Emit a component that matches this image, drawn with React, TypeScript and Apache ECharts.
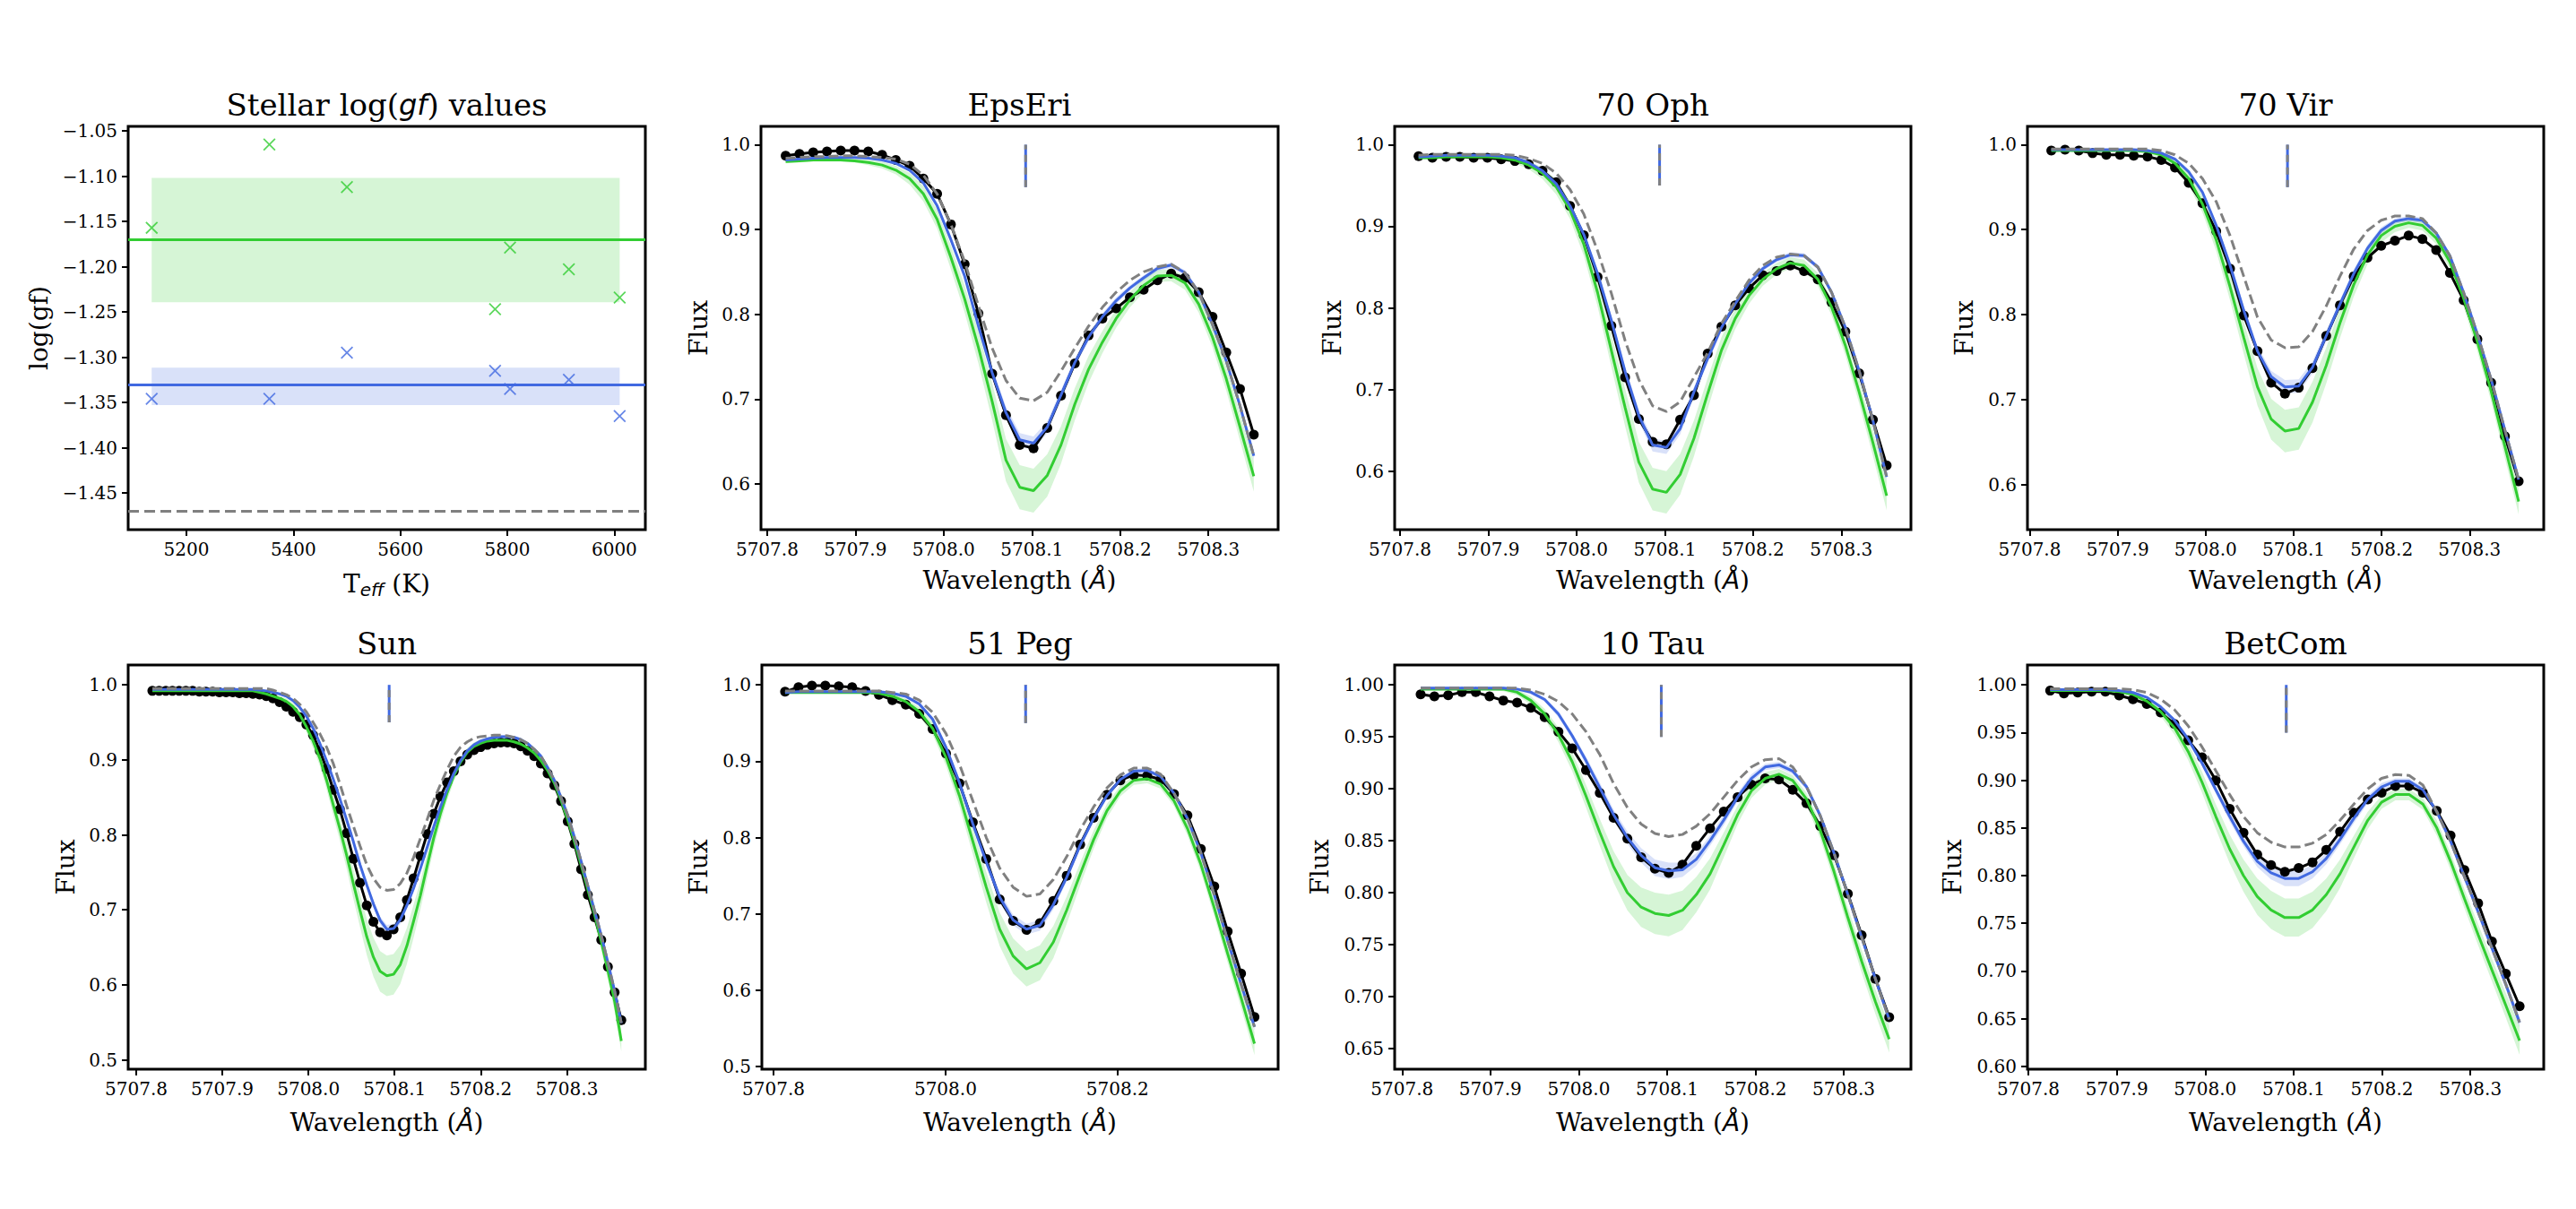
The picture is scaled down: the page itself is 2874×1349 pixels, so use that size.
import React, { useEffect, useRef } from "react";
import * as echarts from "echarts";

// ---------------- Panel 1: stellar log(gf) values ----------------
const teff = [5135, 5355, 5500, 5777, 5805, 5915, 6010];
const logGfGreen = [-1.157, -1.065, -1.112, -1.247, -1.179, -1.203, -1.234];
const logGfBlue = [-1.346, -1.346, -1.295, -1.315, -1.335, -1.325, -1.365];
const greenMean = -1.171;
const greenBand = [-1.2394, -1.102];
const blueMean = -1.3326;
const blueBand = [-1.353, -1.3115];
const originalLogGf = -1.468;
const teffTicks = [5200, 5400, 5600, 5800, 6000];
const logGfTicks = [-1.45, -1.4, -1.35, -1.3, -1.25, -1.2, -1.15, -1.1, -1.05];

// ---------------- Wavelength grids (Å) ----------------
const wlGridA = [
  5707.821, 5707.8366, 5707.8522, 5707.8678, 5707.8834, 5707.899, 5707.9146, 5707.9302, 5707.9458, 5707.9614,
  5707.977, 5707.9926, 5708.0082, 5708.0238, 5708.0394, 5708.055, 5708.0706, 5708.0862, 5708.1018, 5708.1174,
  5708.133, 5708.1486, 5708.1642, 5708.1798, 5708.1954, 5708.211, 5708.2266, 5708.2422, 5708.2578, 5708.2734,
  5708.289, 5708.3046, 5708.3202, 5708.3358, 5708.3514,
];
const wlGridB = [
  5707.8246, 5707.8402, 5707.8558, 5707.8715, 5707.8871, 5707.9027, 5707.9183, 5707.9339, 5707.9496, 5707.9652,
  5707.9808, 5707.9964, 5708.012, 5708.0277, 5708.0433, 5708.0589, 5708.0745, 5708.0901, 5708.1058, 5708.1214,
  5708.137, 5708.1526, 5708.1682, 5708.1839, 5708.1995, 5708.2151, 5708.2307, 5708.2463, 5708.262, 5708.2776,
  5708.2932, 5708.3088, 5708.3244, 5708.3401, 5708.3557,
];
const wl51Peg = [
  5707.8134, 5707.829, 5707.8446, 5707.8602, 5707.8758, 5707.8914, 5707.907, 5707.9226, 5707.9382, 5707.9538,
  5707.9694, 5707.985, 5708.0006, 5708.0162, 5708.0318, 5708.0474, 5708.063, 5708.0786, 5708.0942, 5708.1098,
  5708.1254, 5708.141, 5708.1566, 5708.1722, 5708.1878, 5708.2034, 5708.219, 5708.2346, 5708.2502, 5708.2658,
  5708.2814, 5708.297, 5708.3126, 5708.3282, 5708.3438, 5708.3594,
];
const wlSun = [
  5707.8187, 5707.8265, 5707.8343, 5707.842, 5707.8498, 5707.8576, 5707.8654, 5707.8732, 5707.8809, 5707.8887,
  5707.8965, 5707.9043, 5707.9121, 5707.9198, 5707.9276, 5707.9354, 5707.9432, 5707.951, 5707.9587, 5707.9665,
  5707.9743, 5707.9821, 5707.9899, 5707.9976, 5708.0054, 5708.0132, 5708.021, 5708.0288, 5708.0365, 5708.0443,
  5708.0521, 5708.0599, 5708.0677, 5708.0754, 5708.0832, 5708.091, 5708.0988, 5708.1066, 5708.1143, 5708.1221,
  5708.1299, 5708.1377, 5708.1455, 5708.1532, 5708.161, 5708.1688, 5708.1766, 5708.1844, 5708.1921, 5708.1999,
  5708.2077, 5708.2155, 5708.2233, 5708.231, 5708.2388, 5708.2466, 5708.2544, 5708.2622, 5708.2699, 5708.2777,
  5708.2855, 5708.2933, 5708.3011, 5708.3088, 5708.3166, 5708.3244, 5708.3322, 5708.34, 5708.3477, 5708.3555,
  5708.3633,
];

// ---------------- Tick labels ----------------
const wlTicks = [5707.8, 5707.9, 5708.0, 5708.1, 5708.2, 5708.3];
const wlTicksWide = [5707.8, 5708.0, 5708.2];
const fluxTicksTenth = [0.6, 0.7, 0.8, 0.9, 1.0];
const fluxTicksHalf = [0.5, 0.6, 0.7, 0.8, 0.9, 1.0];
const fluxTicks10Tau = [0.65, 0.7, 0.75, 0.8, 0.85, 0.9, 0.95, 1.0];
const fluxTicksBetCom = [0.6, 0.65, 0.7, 0.75, 0.8, 0.85, 0.9, 0.95, 1.0];

// line-centre marker (wavelength) and its flux extent
const markerWl = [5708.0929, 5708.0941, 5708.093, 5708.0937, 5708.0932, 5708.0934, 5708.0917];
const markerFlux = [0.95, 1.0];

// ---------------- EpsEri ----------------
const epsEriObs = [
  0.987, 0.989, 0.991, 0.992, 0.993, 0.993, 0.992, 0.988, 0.982, 0.975,
  0.96, 0.942, 0.906, 0.859, 0.801, 0.73, 0.681, 0.646, 0.642, 0.666,
  0.704, 0.742, 0.775, 0.795, 0.807, 0.82, 0.829, 0.84, 0.848, 0.843,
  0.826, 0.797, 0.755, 0.712, 0.658,
];
const epsEriBlue = [
  0.982, 0.983, 0.984, 0.985, 0.985, 0.985, 0.984, 0.982, 0.978, 0.97,
  0.955, 0.928, 0.888, 0.845, 0.786, 0.731, 0.684, 0.652, 0.648, 0.667,
  0.705, 0.743, 0.773, 0.797, 0.816, 0.831, 0.843, 0.854, 0.858, 0.849,
  0.826, 0.788, 0.745, 0.692, 0.633,
];
const epsEriGreen = [
  0.98, 0.981, 0.982, 0.982, 0.982, 0.981, 0.979, 0.976, 0.97, 0.96,
  0.942, 0.912, 0.867, 0.818, 0.761, 0.697, 0.628, 0.596, 0.592, 0.61,
  0.646, 0.694, 0.735, 0.767, 0.795, 0.817, 0.834, 0.845, 0.846, 0.837,
  0.812, 0.773, 0.724, 0.667, 0.609,
];
const epsEriGray = [
  0.984, 0.985, 0.986, 0.986, 0.987, 0.987, 0.986, 0.985, 0.983, 0.977,
  0.964, 0.942, 0.906, 0.862, 0.81, 0.76, 0.722, 0.701, 0.698, 0.708,
  0.733, 0.76, 0.786, 0.808, 0.826, 0.84, 0.85, 0.856, 0.859, 0.849,
  0.826, 0.788, 0.745, 0.692, 0.633,
];
const epsEriGreenSpread = [
  0.002, 0.002, 0.002, 0.002, 0.002, 0.002, 0.003, 0.004, 0.005, 0.007,
  0.009, 0.011, 0.014, 0.016, 0.019, 0.022, 0.025, 0.026, 0.026, 0.025,
  0.022, 0.019, 0.016, 0.013, 0.011, 0.009, 0.008, 0.007, 0.007, 0.008,
  0.01, 0.012, 0.014, 0.016, 0.018,
];
const blueSpread35 = [
  0.001, 0.001, 0.001, 0.001, 0.001, 0.001, 0.001, 0.001, 0.002, 0.002,
  0.003, 0.003, 0.004, 0.005, 0.005, 0.006, 0.007, 0.008, 0.008, 0.007,
  0.006, 0.005, 0.005, 0.004, 0.004, 0.003, 0.003, 0.003, 0.003, 0.003,
  0.003, 0.004, 0.004, 0.005, 0.005,
];

// ---------------- 70 Oph ----------------
const oph70Obs = [
  0.986, 0.984, 0.985, 0.985, 0.984, 0.984, 0.982, 0.98, 0.976, 0.968,
  0.954, 0.925, 0.889, 0.838, 0.778, 0.715, 0.664, 0.636, 0.633, 0.663,
  0.693, 0.744, 0.777, 0.803, 0.824, 0.84, 0.845, 0.852, 0.845, 0.835,
  0.807, 0.771, 0.72, 0.663, 0.607,
];
const oph70Blue = [
  0.985, 0.986, 0.987, 0.987, 0.987, 0.987, 0.986, 0.984, 0.978, 0.968,
  0.952, 0.925, 0.89, 0.842, 0.785, 0.722, 0.668, 0.632, 0.629, 0.652,
  0.697, 0.738, 0.776, 0.805, 0.83, 0.848, 0.859, 0.865, 0.864, 0.85,
  0.819, 0.776, 0.723, 0.662, 0.593,
];
const oph70Green = [
  0.984, 0.984, 0.985, 0.985, 0.985, 0.985, 0.984, 0.981, 0.975, 0.965,
  0.948, 0.92, 0.878, 0.819, 0.748, 0.678, 0.611, 0.578, 0.574, 0.596,
  0.64, 0.695, 0.748, 0.787, 0.815, 0.835, 0.848, 0.855, 0.852, 0.835,
  0.801, 0.754, 0.697, 0.635, 0.57,
];
const oph70Gray = [
  0.987, 0.988, 0.988, 0.988, 0.988, 0.988, 0.988, 0.987, 0.983, 0.977,
  0.965, 0.945, 0.915, 0.87, 0.818, 0.76, 0.712, 0.68, 0.673, 0.685,
  0.715, 0.745, 0.781, 0.808, 0.834, 0.852, 0.862, 0.866, 0.864, 0.85,
  0.819, 0.776, 0.723, 0.662, 0.593,
];
const oph70GreenSpread = [
  0.002, 0.002, 0.002, 0.002, 0.002, 0.002, 0.003, 0.004, 0.005, 0.007,
  0.009, 0.011, 0.014, 0.017, 0.02, 0.023, 0.025, 0.026, 0.026, 0.025,
  0.022, 0.019, 0.016, 0.013, 0.01, 0.008, 0.007, 0.007, 0.007, 0.008,
  0.01, 0.012, 0.014, 0.016, 0.018,
];

// ---------------- 70 Vir ----------------
const vir70Obs = [
  0.993, 0.994, 0.993, 0.99, 0.988, 0.988, 0.987, 0.986, 0.982, 0.973,
  0.955, 0.931, 0.898, 0.854, 0.799, 0.757, 0.72, 0.707, 0.714, 0.737,
  0.775, 0.811, 0.845, 0.867, 0.881, 0.887, 0.893, 0.889, 0.876, 0.849,
  0.817, 0.771, 0.72, 0.657, 0.604,
];
const vir70Blue = [
  0.994, 0.994, 0.994, 0.994, 0.994, 0.994, 0.994, 0.993, 0.99, 0.983,
  0.968, 0.944, 0.905, 0.858, 0.805, 0.757, 0.727, 0.715, 0.716, 0.738,
  0.775, 0.812, 0.848, 0.878, 0.899, 0.91, 0.913, 0.911, 0.896, 0.869,
  0.826, 0.777, 0.724, 0.664, 0.606,
];
const vir70Green = [
  0.993, 0.993, 0.993, 0.993, 0.993, 0.993, 0.993, 0.992, 0.988, 0.978,
  0.96, 0.93, 0.888, 0.833, 0.773, 0.715, 0.677, 0.663, 0.666, 0.697,
  0.74, 0.79, 0.835, 0.87, 0.893, 0.904, 0.908, 0.905, 0.89, 0.862,
  0.819, 0.768, 0.71, 0.645, 0.58,
];
const vir70Gray = [
  0.995, 0.995, 0.995, 0.995, 0.995, 0.995, 0.995, 0.995, 0.993, 0.988,
  0.978, 0.96, 0.933, 0.893, 0.845, 0.797, 0.77, 0.761, 0.762, 0.78,
  0.81, 0.845, 0.877, 0.899, 0.911, 0.916, 0.916, 0.913, 0.896, 0.869,
  0.826, 0.777, 0.724, 0.664, 0.606,
];
const vir70GreenSpread = [
  0.001, 0.001, 0.001, 0.001, 0.001, 0.001, 0.002, 0.003, 0.004, 0.006,
  0.008, 0.01, 0.013, 0.016, 0.019, 0.022, 0.024, 0.025, 0.025, 0.024,
  0.021, 0.018, 0.014, 0.011, 0.008, 0.007, 0.006, 0.006, 0.007, 0.008,
  0.01, 0.011, 0.012, 0.014, 0.015,
];

// ---------------- Sun ----------------
const sunObs = [
  0.992, 0.992, 0.992, 0.992, 0.992, 0.992, 0.992, 0.991, 0.991, 0.991,
  0.99, 0.99, 0.99, 0.989, 0.989, 0.988, 0.987, 0.985, 0.982, 0.977,
  0.971, 0.964, 0.957, 0.947, 0.933, 0.912, 0.888, 0.86, 0.834, 0.802,
  0.768, 0.736, 0.706, 0.684, 0.67, 0.666, 0.674, 0.69, 0.713, 0.742,
  0.772, 0.801, 0.828, 0.851, 0.87, 0.885, 0.898, 0.907, 0.913, 0.917,
  0.92, 0.922, 0.923, 0.923, 0.922, 0.918, 0.912, 0.905, 0.895, 0.882,
  0.866, 0.845, 0.818, 0.788, 0.754, 0.72, 0.69, 0.66, 0.624, 0.59,
  0.553,
];
const sunBlue = [
  0.994, 0.994, 0.994, 0.994, 0.994, 0.994, 0.994, 0.994, 0.994, 0.994,
  0.994, 0.994, 0.994, 0.994, 0.994, 0.994, 0.993, 0.992, 0.99, 0.988,
  0.985, 0.979, 0.97, 0.958, 0.942, 0.922, 0.899, 0.874, 0.848, 0.82,
  0.791, 0.76, 0.733, 0.708, 0.686, 0.674, 0.675, 0.687, 0.706, 0.729,
  0.755, 0.783, 0.811, 0.837, 0.861, 0.882, 0.899, 0.912, 0.92, 0.925,
  0.928, 0.93, 0.931, 0.931, 0.93, 0.927, 0.922, 0.914, 0.905, 0.89,
  0.873, 0.85, 0.826, 0.797, 0.765, 0.732, 0.699, 0.666, 0.63, 0.592,
  0.549,
];
const sunGreen = [
  0.992, 0.992, 0.992, 0.992, 0.992, 0.992, 0.992, 0.992, 0.992, 0.992,
  0.992, 0.992, 0.992, 0.992, 0.992, 0.992, 0.99, 0.988, 0.985, 0.982,
  0.978, 0.971, 0.96, 0.944, 0.925, 0.902, 0.873, 0.84, 0.808, 0.773,
  0.735, 0.699, 0.664, 0.637, 0.618, 0.612, 0.614, 0.627, 0.652, 0.685,
  0.719, 0.758, 0.796, 0.828, 0.856, 0.879, 0.897, 0.91, 0.918, 0.922,
  0.925, 0.926, 0.926, 0.926, 0.924, 0.921, 0.916, 0.909, 0.899, 0.886,
  0.869, 0.846, 0.82, 0.791, 0.76, 0.727, 0.694, 0.658, 0.619, 0.578,
  0.525,
];
const sunGray = [
  0.995, 0.995, 0.995, 0.995, 0.995, 0.995, 0.995, 0.995, 0.995, 0.995,
  0.995, 0.995, 0.995, 0.995, 0.995, 0.995, 0.995, 0.995, 0.993, 0.99,
  0.987, 0.982, 0.974, 0.964, 0.95, 0.935, 0.917, 0.895, 0.868, 0.839,
  0.812, 0.785, 0.76, 0.742, 0.73, 0.726, 0.727, 0.735, 0.749, 0.77,
  0.795, 0.82, 0.846, 0.867, 0.887, 0.905, 0.917, 0.924, 0.929, 0.931,
  0.932, 0.933, 0.933, 0.932, 0.93, 0.927, 0.922, 0.914, 0.905, 0.89,
  0.873, 0.85, 0.826, 0.797, 0.765, 0.732, 0.699, 0.666, 0.63, 0.592,
  0.549,
];
const sunGreenSpread = [
  0.002, 0.002, 0.002, 0.002, 0.002, 0.002, 0.002, 0.002, 0.002, 0.002,
  0.002, 0.002, 0.002, 0.002, 0.002, 0.002, 0.002, 0.002, 0.003, 0.003,
  0.004, 0.005, 0.006, 0.007, 0.009, 0.01, 0.012, 0.014, 0.016, 0.018,
  0.02, 0.022, 0.024, 0.026, 0.027, 0.027, 0.027, 0.026, 0.024, 0.022,
  0.019, 0.017, 0.014, 0.012, 0.01, 0.008, 0.007, 0.006, 0.005, 0.005,
  0.005, 0.005, 0.005, 0.005, 0.005, 0.005, 0.005, 0.006, 0.006, 0.007,
  0.008, 0.009, 0.01, 0.01, 0.011, 0.011, 0.012, 0.012, 0.013, 0.013,
  0.014,
];
const sunBlueSpread = [
  0.001, 0.001, 0.001, 0.001, 0.001, 0.001, 0.001, 0.001, 0.001, 0.001,
  0.001, 0.001, 0.001, 0.001, 0.001, 0.001, 0.001, 0.001, 0.001, 0.001,
  0.002, 0.002, 0.002, 0.002, 0.002, 0.002, 0.002, 0.002, 0.003, 0.003,
  0.003, 0.003, 0.004, 0.005, 0.005, 0.006, 0.006, 0.006, 0.005, 0.005,
  0.004, 0.003, 0.003, 0.003, 0.002, 0.002, 0.002, 0.002, 0.002, 0.002,
  0.002, 0.002, 0.002, 0.002, 0.002, 0.002, 0.002, 0.002, 0.002, 0.002,
  0.003, 0.003, 0.003, 0.003, 0.003, 0.003, 0.003, 0.003, 0.003, 0.003,
  0.003,
];

// ---------------- 51 Peg ----------------
const peg51Obs = [
  0.991, 0.997, 0.999, 0.999, 0.998, 0.997, 0.992, 0.987, 0.98, 0.974,
  0.962, 0.942, 0.91, 0.871, 0.82, 0.772, 0.719, 0.691, 0.679, 0.688,
  0.717, 0.75, 0.791, 0.826, 0.856, 0.875, 0.882, 0.881, 0.876, 0.857,
  0.829, 0.785, 0.736, 0.677, 0.622, 0.565,
];
const peg51Blue = [
  0.99, 0.991, 0.991, 0.991, 0.991, 0.991, 0.991, 0.991, 0.989, 0.985,
  0.975, 0.955, 0.918, 0.872, 0.818, 0.768, 0.722, 0.692, 0.68, 0.685,
  0.712, 0.748, 0.79, 0.825, 0.855, 0.876, 0.887, 0.888, 0.88, 0.858,
  0.825, 0.78, 0.725, 0.665, 0.608, 0.552,
];
const peg51Green = [
  0.99, 0.99, 0.99, 0.99, 0.99, 0.99, 0.99, 0.989, 0.985, 0.978,
  0.965, 0.943, 0.905, 0.855, 0.795, 0.735, 0.68, 0.645, 0.628, 0.636,
  0.663, 0.705, 0.752, 0.797, 0.835, 0.861, 0.875, 0.877, 0.87, 0.848,
  0.812, 0.765, 0.708, 0.648, 0.59, 0.53,
];
const peg51Gray = [
  0.992, 0.992, 0.992, 0.992, 0.992, 0.992, 0.992, 0.992, 0.99, 0.988,
  0.98, 0.964, 0.936, 0.896, 0.848, 0.8, 0.76, 0.735, 0.723, 0.726,
  0.745, 0.775, 0.81, 0.84, 0.865, 0.882, 0.891, 0.891, 0.883, 0.858,
  0.825, 0.78, 0.725, 0.665, 0.608, 0.552,
];
const peg51GreenSpread = [
  0.001, 0.001, 0.001, 0.001, 0.001, 0.001, 0.001, 0.002, 0.003, 0.004,
  0.006, 0.008, 0.011, 0.014, 0.017, 0.02, 0.022, 0.023, 0.023, 0.023,
  0.021, 0.018, 0.015, 0.012, 0.009, 0.007, 0.006, 0.006, 0.006, 0.007,
  0.009, 0.01, 0.011, 0.012, 0.013, 0.015,
];
const peg51BlueSpread = [
  0.001, 0.001, 0.001, 0.001, 0.001, 0.001, 0.001, 0.001, 0.002, 0.002,
  0.003, 0.003, 0.004, 0.005, 0.005, 0.006, 0.007, 0.007, 0.007, 0.007,
  0.006, 0.005, 0.005, 0.004, 0.004, 0.003, 0.003, 0.003, 0.003, 0.003,
  0.003, 0.004, 0.004, 0.005, 0.005, 0.005,
];

// ---------------- 10 Tau ----------------
const tau10Obs = [
  0.991, 0.989, 0.99, 0.993, 0.993, 0.989, 0.985, 0.983, 0.978, 0.969,
  0.955, 0.939, 0.918, 0.896, 0.872, 0.852, 0.834, 0.823, 0.819, 0.827,
  0.845, 0.862, 0.878, 0.892, 0.904, 0.91, 0.909, 0.899, 0.886, 0.864,
  0.836, 0.799, 0.759, 0.717, 0.68,
];
const tau10Blue = [
  0.997, 0.997, 0.997, 0.997, 0.997, 0.997, 0.997, 0.996, 0.993, 0.986,
  0.972, 0.951, 0.927, 0.901, 0.875, 0.853, 0.836, 0.824, 0.821, 0.822,
  0.832, 0.85, 0.87, 0.892, 0.91, 0.921, 0.923, 0.917, 0.902, 0.874,
  0.838, 0.798, 0.757, 0.717, 0.678,
];
const tau10Green = [
  0.996, 0.996, 0.996, 0.996, 0.996, 0.996, 0.996, 0.993, 0.985, 0.972,
  0.952, 0.926, 0.893, 0.858, 0.825, 0.8, 0.786, 0.78, 0.778, 0.783,
  0.798, 0.818, 0.846, 0.875, 0.898, 0.91, 0.914, 0.908, 0.89, 0.86,
  0.82, 0.776, 0.734, 0.695, 0.659,
];
const tau10Gray = [
  0.997, 0.997, 0.997, 0.997, 0.997, 0.997, 0.997, 0.997, 0.995, 0.991,
  0.984, 0.972, 0.955, 0.933, 0.905, 0.882, 0.866, 0.857, 0.854, 0.856,
  0.864, 0.876, 0.892, 0.908, 0.921, 0.928, 0.929, 0.921, 0.902, 0.874,
  0.838, 0.798, 0.757, 0.717, 0.678,
];
const tau10GreenSpread = [
  0.001, 0.001, 0.001, 0.001, 0.001, 0.001, 0.002, 0.003, 0.004, 0.005,
  0.007, 0.009, 0.011, 0.013, 0.015, 0.017, 0.019, 0.02, 0.02, 0.019,
  0.017, 0.015, 0.012, 0.009, 0.007, 0.006, 0.005, 0.005, 0.006, 0.008,
  0.009, 0.01, 0.011, 0.012, 0.013,
];

// ---------------- BetCom ----------------
const betComObs = [
  0.994, 0.991, 0.992, 0.993, 0.993, 0.989, 0.985, 0.98, 0.971, 0.959,
  0.942, 0.924, 0.9, 0.87, 0.845, 0.822, 0.811, 0.804, 0.808, 0.814,
  0.827, 0.846, 0.866, 0.88, 0.887, 0.894, 0.894, 0.887, 0.868, 0.842,
  0.806, 0.771, 0.731, 0.697, 0.663,
];
const betComBlue = [
  0.995, 0.995, 0.995, 0.995, 0.995, 0.994, 0.992, 0.987, 0.977, 0.963,
  0.943, 0.918, 0.89, 0.862, 0.836, 0.815, 0.803, 0.797, 0.797, 0.804,
  0.818, 0.838, 0.86, 0.88, 0.893, 0.899, 0.899, 0.89, 0.867, 0.836,
  0.799, 0.762, 0.724, 0.686, 0.646,
];
const betComGreen = [
  0.994, 0.994, 0.994, 0.994, 0.994, 0.993, 0.99, 0.983, 0.972, 0.955,
  0.93, 0.898, 0.862, 0.828, 0.8, 0.778, 0.764, 0.756, 0.756, 0.764,
  0.78, 0.802, 0.83, 0.858, 0.877, 0.885, 0.885, 0.875, 0.85, 0.815,
  0.776, 0.738, 0.701, 0.664, 0.627,
];
const betComGray = [
  0.996, 0.996, 0.996, 0.996, 0.996, 0.996, 0.995, 0.992, 0.985, 0.974,
  0.957, 0.935, 0.91, 0.885, 0.862, 0.845, 0.835, 0.83, 0.83, 0.834,
  0.843, 0.858, 0.875, 0.891, 0.902, 0.906, 0.905, 0.895, 0.867, 0.836,
  0.799, 0.762, 0.724, 0.686, 0.646,
];
const betComGreenSpread = [
  0.001, 0.001, 0.001, 0.001, 0.001, 0.002, 0.003, 0.004, 0.005, 0.007,
  0.009, 0.011, 0.013, 0.015, 0.017, 0.019, 0.02, 0.02, 0.02, 0.019,
  0.017, 0.015, 0.012, 0.009, 0.007, 0.006, 0.006, 0.006, 0.008, 0.009,
  0.01, 0.011, 0.012, 0.013, 0.015,
];

// ---------------- assembly ----------------
const spectra = [
  { name: "EpsEri", wl: wlGridA, obs: epsEriObs, blue: epsEriBlue, green: epsEriGreen, gray: epsEriGray, gs: epsEriGreenSpread, bs: blueSpread35, xTicks: wlTicks, yTicks: fluxTicksTenth, yDigits: 1 },
  { name: "70 Oph", wl: wlGridA, obs: oph70Obs, blue: oph70Blue, green: oph70Green, gray: oph70Gray, gs: oph70GreenSpread, bs: blueSpread35, xTicks: wlTicks, yTicks: fluxTicksTenth, yDigits: 1 },
  { name: "70 Vir", wl: wlGridB, obs: vir70Obs, blue: vir70Blue, green: vir70Green, gray: vir70Gray, gs: vir70GreenSpread, bs: blueSpread35, xTicks: wlTicks, yTicks: fluxTicksTenth, yDigits: 1 },
  { name: "Sun", wl: wlSun, obs: sunObs, blue: sunBlue, green: sunGreen, gray: sunGray, gs: sunGreenSpread, bs: sunBlueSpread, xTicks: wlTicks, yTicks: fluxTicksHalf, yDigits: 1 },
  { name: "51 Peg", wl: wl51Peg, obs: peg51Obs, blue: peg51Blue, green: peg51Green, gray: peg51Gray, gs: peg51GreenSpread, bs: peg51BlueSpread, xTicks: wlTicksWide, yTicks: fluxTicksHalf, yDigits: 1 },
  { name: "10 Tau", wl: wlGridA, obs: tau10Obs, blue: tau10Blue, green: tau10Green, gray: tau10Gray, gs: tau10GreenSpread, bs: blueSpread35, xTicks: wlTicks, yTicks: fluxTicks10Tau, yDigits: 2 },
  { name: "BetCom", wl: wlGridB, obs: betComObs, blue: betComBlue, green: betComGreen, gray: betComGray, gs: betComGreenSpread, bs: blueSpread35, xTicks: wlTicks, yTicks: fluxTicksBetCom, yDigits: 2 },
];

// layout: panel boxes (px) and axis extents
const boxes = [
  { left: 143, top: 141, width: 577, height: 450, yNameOff: 100 },
  { left: 849, top: 141, width: 577, height: 450, yNameOff: 70 },
  { left: 1556, top: 141, width: 576, height: 450, yNameOff: 70 },
  { left: 2262, top: 141, width: 576, height: 450, yNameOff: 71 },
  { left: 143, top: 742, width: 577, height: 451, yNameOff: 70 },
  { left: 850, top: 742, width: 576, height: 451, yNameOff: 71 },
  { left: 1556, top: 742, width: 576, height: 451, yNameOff: 84 },
  { left: 2262, top: 742, width: 576, height: 451, yNameOff: 84 },
];
const extents = [
  { xMin: 5091, xMax: 6058, yMin: -1.4905, yMax: -1.045 },
  { xMin: 5707.793, xMax: 5708.379, yMin: 0.546, yMax: 1.0216 },
  { xMin: 5707.7939, xMax: 5708.3789, yMin: 0.5283, yMax: 1.0224 },
  { xMin: 5707.7975, xMax: 5708.3842, yMin: 0.547, yMax: 1.0215 },
  { xMin: 5707.7906, xMax: 5708.3912, yMin: 0.4875, yMax: 1.0265 },
  { xMin: 5707.7864, xMax: 5708.3869, yMin: 0.4966, yMax: 1.026 },
  { xMin: 5707.7916, xMax: 5708.376, yMin: 0.63, yMax: 1.0192 },
  { xMin: 5707.7989, xMax: 5708.383, yMin: 0.597, yMax: 1.0209 },
];

const SERIF = "'DejaVu Serif', serif";
const SANS = "'DejaVu Sans', sans-serif";
const GREEN = "#32CD32";
const BLUE = "#4169E1";
const GRAY = "#808080";
const GREEN_FILL = "rgba(50,205,50,0.2)";
const BLUE_FILL = "rgba(65,105,225,0.2)";
const XPATH = "path://M0,0.9L0.9,0L5,4.1L9.1,0L10,0.9L5.9,5L10,9.1L9.1,10L5,5.9L0.9,10L0,9.1L4.1,5Z";
const LW = 3;

function axis(k: number, min: number, max: number, ticks: number[], fmt: (v: number) => string) {
  return {
    gridIndex: k,
    type: "value",
    min,
    max,
    axisLine: { show: false, onZero: false },
    splitLine: { show: false },
    axisTick: { show: true, inside: false, length: 7, lineStyle: { color: "#000", width: 2 }, customValues: ticks },
    axisLabel: { show: true, customValues: ticks, formatter: fmt, color: "#000", fontFamily: SERIF, fontSize: 20, margin: 12 },
  };
}

function text(x: number, y: number, t: string, size: number, rot = 0, rich?: any) {
  return {
    type: "text",
    x,
    y,
    rotation: rot,
    silent: true,
    style: { text: t, fontFamily: SERIF, fontSize: size, fill: "#000", align: "center", verticalAlign: "middle", rich },
  };
}

// band polygon (line ± spread) drawn through the axis scales
function bandSeries(k: number, wl: number[], line: number[], spread: number[], fill: string) {
  return {
    type: "custom",
    xAxisIndex: k,
    yAxisIndex: k,
    silent: true,
    z: 1,
    clip: true,
    data: [[wl[0], line[0]]],
    renderItem: (_params: any, api: any) => {
      const upper = wl.map((x, i) => api.coord([x, line[i] + spread[i]]));
      const lower = wl.map((x, i) => api.coord([x, line[i] - spread[i]])).reverse();
      return { type: "polygon", shape: { points: upper.concat(lower) }, style: { fill, stroke: "none" }, silent: true };
    },
  };
}

function buildOption() {
  const grid: any[] = [];
  const xAxis: any[] = [];
  const yAxis: any[] = [];
  const series: any[] = [];
  const graphic: any[] = [];

  boxes.forEach((b) => {
    grid.push({ left: b.left, top: b.top, width: b.width, height: b.height, show: true, borderColor: "#000", borderWidth: 3, backgroundColor: "#fff", containLabel: false });
  });

  // ---- panel 1 ----
  const e0 = extents[0];
  xAxis.push(axis(0, e0.xMin, e0.xMax, teffTicks, (v: number) => String(Math.round(v))));
  yAxis.push(axis(0, e0.yMin, e0.yMax, logGfTicks, (v: number) => "\u2212" + Math.abs(v).toFixed(2)));
  const teffMin = Math.min(...teff);
  const teffMax = Math.max(...teff);
  series.push({
    type: "scatter",
    xAxisIndex: 0,
    yAxisIndex: 0,
    data: teff.map((t, i) => [t, logGfGreen[i]]),
    symbol: XPATH,
    symbolSize: 14,
    itemStyle: { color: GREEN },
    z: 5,
    markArea: { silent: true, itemStyle: { color: GREEN_FILL }, data: [[{ xAxis: teffMin, yAxis: greenBand[1] }, { xAxis: teffMax, yAxis: greenBand[0] }]] },
    markLine: { silent: true, symbol: ["none", "none"], label: { show: false }, lineStyle: { color: GREEN, width: LW, type: "solid" }, data: [{ yAxis: greenMean }] },
  });
  series.push({
    type: "scatter",
    xAxisIndex: 0,
    yAxisIndex: 0,
    data: teff.map((t, i) => [t, logGfBlue[i]]),
    symbol: XPATH,
    symbolSize: 14,
    itemStyle: { color: BLUE },
    z: 5,
    markArea: { silent: true, itemStyle: { color: BLUE_FILL }, data: [[{ xAxis: teffMin, yAxis: blueBand[1] }, { xAxis: teffMax, yAxis: blueBand[0] }]] },
    markLine: {
      silent: true,
      symbol: ["none", "none"],
      label: { show: false },
      lineStyle: { color: BLUE, width: LW, type: "solid" },
      data: [{ yAxis: blueMean }, { yAxis: originalLogGf, lineStyle: { color: GRAY, width: LW, type: [12, 6] } }],
    },
  });

  const b0 = boxes[0];
  graphic.push(text(b0.left + b0.width / 2, 117, "Stellar log({i|gf}) values", 34, 0, { i: { fontFamily: SANS, fontStyle: "italic", fontSize: 32 } }));
  graphic.push(text(b0.left - b0.yNameOff, b0.top + b0.height / 2, "log(gf)", 28, Math.PI / 2));
  graphic.push(text(b0.left + b0.width / 2, 651, "T{s|eff} (K)", 28, 0, { s: { fontFamily: SANS, fontStyle: "italic", fontSize: 20, padding: [14, 0, 0, 0] } }));

  // ---- spectra ----
  spectra.forEach((p, j) => {
    const k = j + 1;
    const b = boxes[k];
    const e = extents[k];
    xAxis.push(axis(k, e.xMin, e.xMax, p.xTicks, (v: number) => v.toFixed(1)));
    yAxis.push(axis(k, e.yMin, e.yMax, p.yTicks, (v: number) => v.toFixed(p.yDigits)));
    const base = { type: "line", xAxisIndex: k, yAxisIndex: k, silent: true, smooth: false, showAllSymbol: true };
    const pts = (arr: number[]) => p.wl.map((x, i) => [x, arr[i]]);
    series.push(bandSeries(k, p.wl, p.green, p.gs, GREEN_FILL));
    series.push(bandSeries(k, p.wl, p.blue, p.bs, BLUE_FILL));
    // observed
    series.push({ ...base, data: pts(p.obs), symbol: "circle", symbolSize: 11, itemStyle: { color: "#000", borderWidth: 0 }, lineStyle: { color: "#000", width: LW }, z: 2 });
    // models
    series.push({ ...base, data: pts(p.green), symbol: "none", lineStyle: { color: GREEN, width: LW }, z: 3 });
    series.push({ ...base, data: pts(p.blue), symbol: "none", lineStyle: { color: BLUE, width: LW }, z: 3 });
    series.push({ ...base, data: pts(p.gray), symbol: "none", lineStyle: { color: GRAY, width: LW, type: [11, 5] }, z: 4 });
    // line-centre marker
    const m = markerWl[j];
    series.push({ ...base, data: markerFlux.map((f) => [m, f]), symbol: "none", lineStyle: { color: BLUE, width: LW }, z: 4 });
    series.push({ ...base, data: markerFlux.map((f) => [m, f]), symbol: "none", lineStyle: { color: GRAY, width: LW, type: [8, 6] }, z: 5 });

    const rowTitleY = b.top < 400 ? 117 : 718;
    const rowXLabelY = b.top < 400 ? 647 : 1252;
    graphic.push(text(b.left + b.width / 2, rowTitleY, p.name, 34));
    graphic.push(text(b.left - b.yNameOff, b.top + b.height / 2, "Flux", 28, Math.PI / 2));
    graphic.push(text(b.left + b.width / 2, rowXLabelY, "Wavelength ({i|\u00C5})", 28, 0, { i: { fontFamily: SANS, fontStyle: "italic", fontSize: 28 } }));
  });

  return {
    animation: false,
    backgroundColor: "#fff",
    textStyle: { fontFamily: SERIF },
    grid,
    xAxis,
    yAxis,
    series,
    graphic: { elements: graphic },
  };
}

export default function App() {
  const ref = useRef<HTMLDivElement>(null);
  useEffect(() => {
    if (!ref.current) return;
    const chart = echarts.init(ref.current, null, { renderer: "svg" });
    chart.setOption(buildOption() as any);
    return () => chart.dispose();
  }, []);
  return (
    <div
      ref={ref}
      style={{ position: "absolute", left: 0, top: 0, width: 2874, height: 1349, background: "#fff" }}
    />
  );
}
